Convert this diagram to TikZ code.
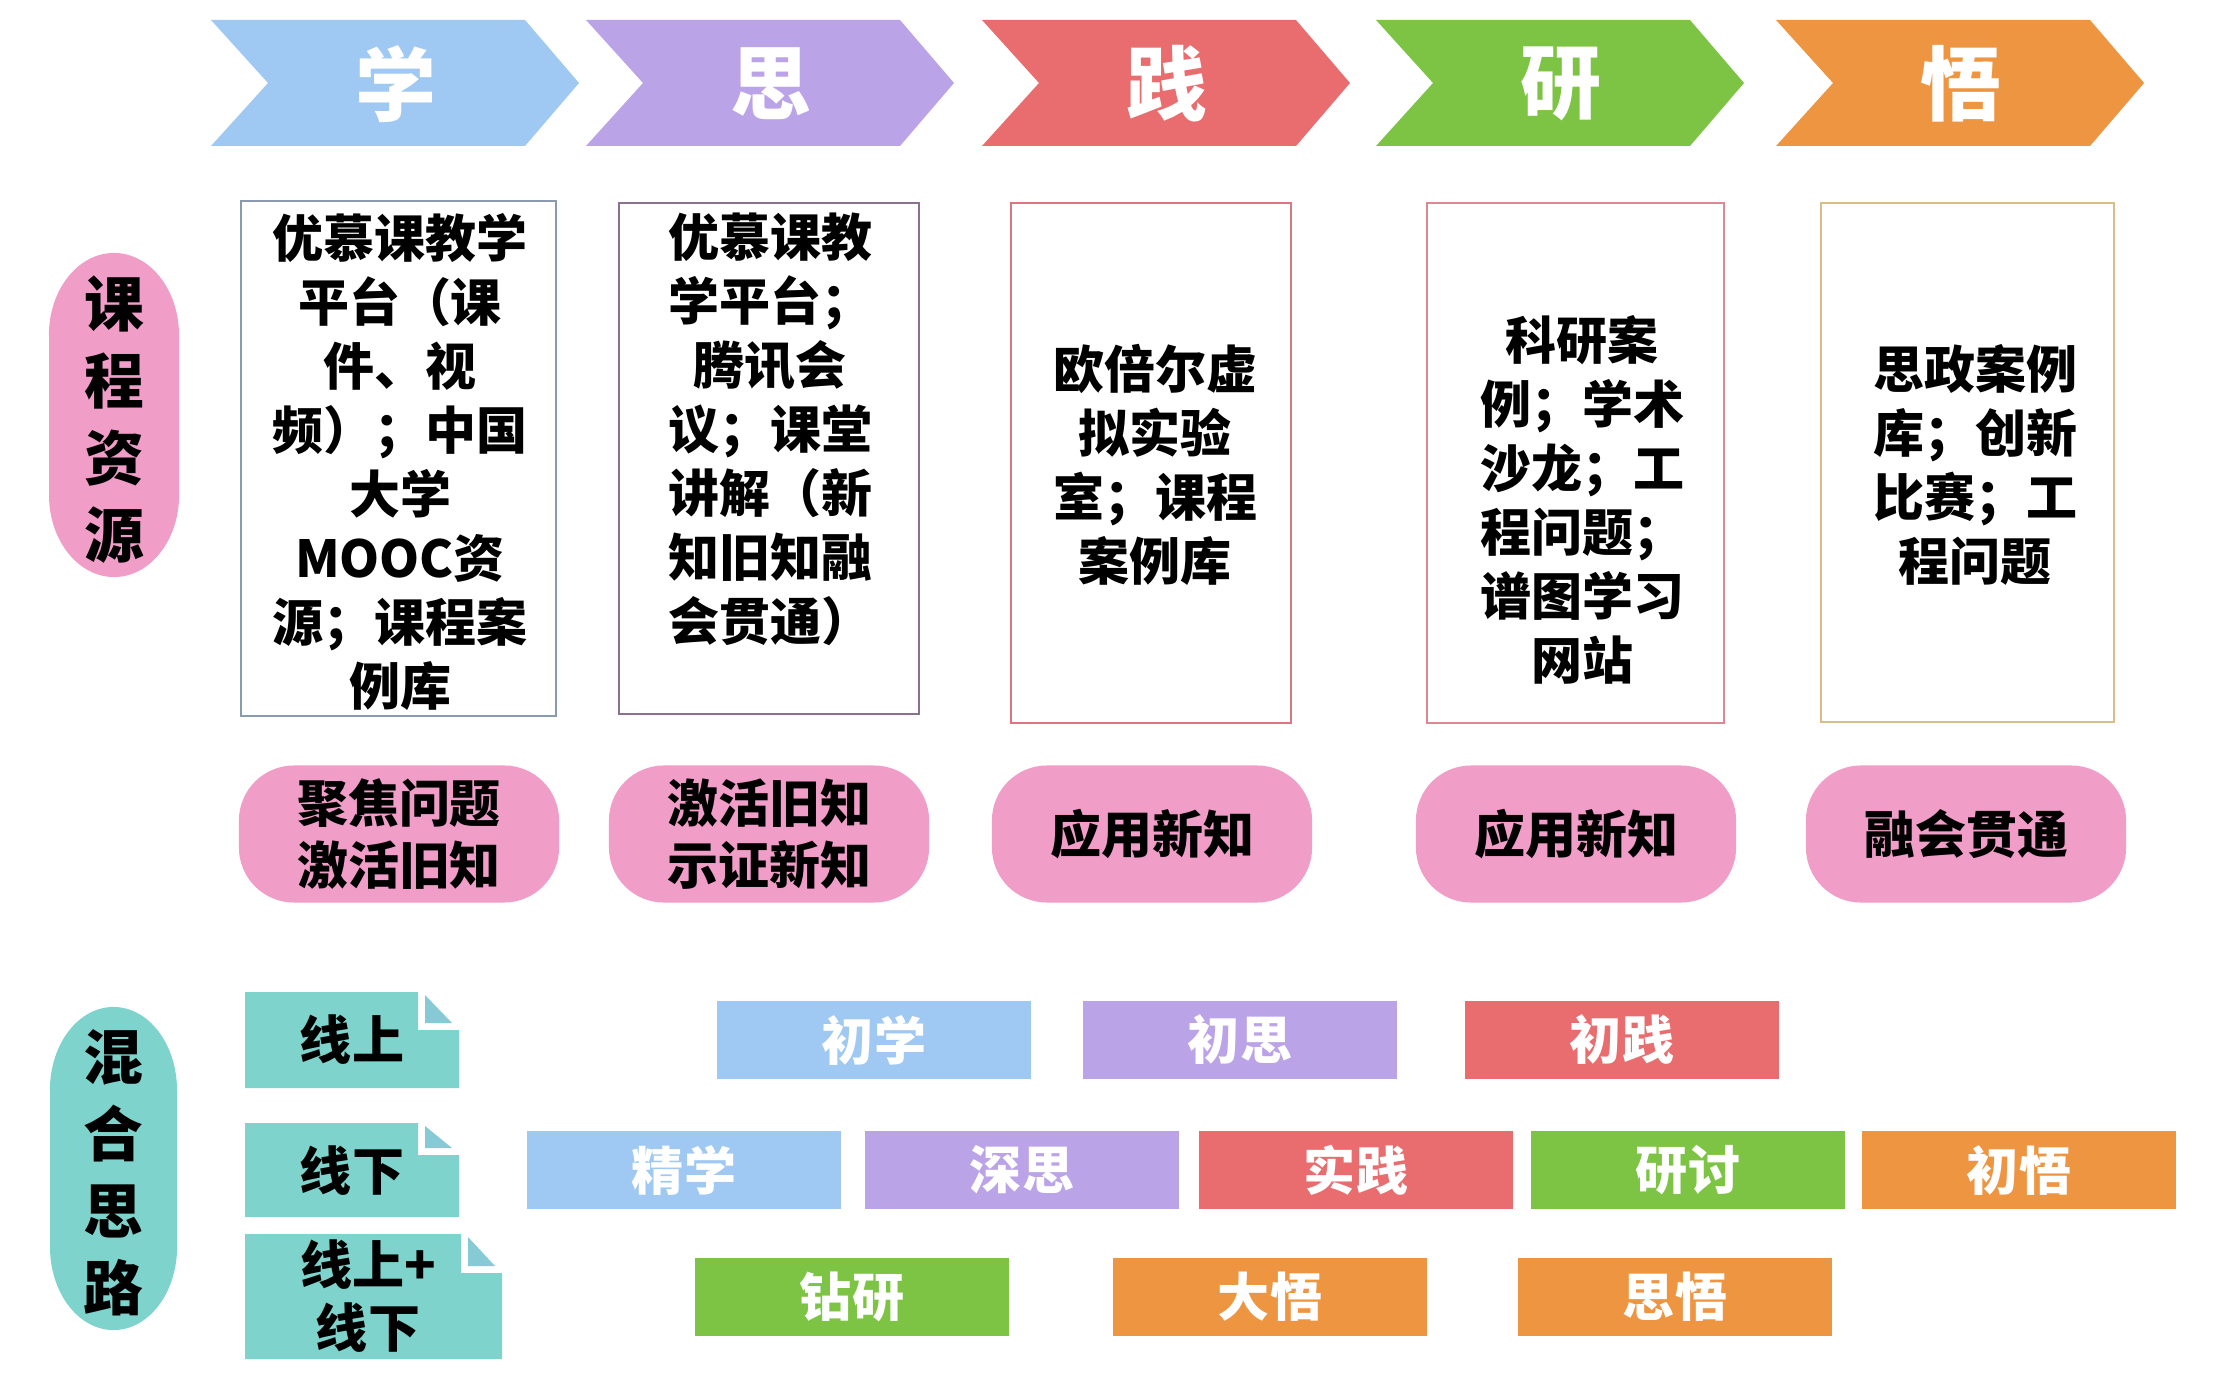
\documentclass[tikz,border=0pt]{standalone}
\usepackage{fontspec}
\setmainfont{Noto Sans CJK SC}
\usetikzlibrary{positioning}

\definecolor{xblue}{HTML}{9FC9F2}
\definecolor{xpurple}{HTML}{BBA3E8}
\definecolor{xred}{HTML}{E96C6E}
\definecolor{xgreen}{HTML}{7DC444}
\definecolor{xorange}{HTML}{EE9542}
\definecolor{xpink}{HTML}{F09DC8}
\definecolor{xteal}{HTML}{7ED4CC}
\definecolor{xflap}{HTML}{86CAD6}
\definecolor{bd1}{HTML}{8A9AB0}
\definecolor{bd2}{HTML}{8C7090}
\definecolor{bd3}{HTML}{DC7680}
\definecolor{bd4}{HTML}{D98A92}
\definecolor{bd5}{HTML}{D9BC86}

\tikzset{
  steptext/.style={text=white, font=\fontsize{23}{27}\selectfont\bfseries},
  restext/.style={align=center, font=\fontsize{14.5}{18.2}\selectfont\bfseries},
  resbox/.style={line width=0.8pt},
  pinkbox/.style={fill=xpink, rounded corners=0.55cm, minimum width=3.2cm,
    minimum height=1.37cm, align=center, font=\fontsize{14.5}{17.6}\selectfont\bfseries},
  sidetext/.style={align=center, font=\fontsize{17}{21.9}\selectfont\bfseries},
  doctext/.style={align=center, font=\fontsize{14.8}{17.9}\selectfont\bfseries},
  stagebox/.style={minimum width=3.13cm, minimum height=0.78cm, text=white,
    font=\fontsize{14.8}{17}\selectfont\bfseries}
}

\begin{document}
\begin{tikzpicture}[x=0.01cm, y=-0.01cm]
\useasboundingbox[fill=white] (0,0) rectangle (2240,1382);

% top chevrons
\foreach \x/\c/\t [count=\i] in {211/xblue/学, 586/xpurple/思, 982/xred/践, 1376/xgreen/研, 1776/xorange/悟}{
  \fill[\c] (\x,20) -- (\x+314,20) -- (\x+368,83) -- (\x+314,146) -- (\x,146) -- (\x+57,83) -- cycle;
  \node[steptext] (st\i) at (\x+185,84) {\t};
}

% side labels
\fill[xpink] (49,335) -- (49,495) arc[start angle=180, end angle=360, x radius=0.65cm, y radius=0.82cm]
  -- (179,335) arc[start angle=0, end angle=180, x radius=0.65cm, y radius=0.82cm] -- cycle;
\node[sidetext] (kczy) at (114,420) {课\\程\\资\\源};
\fill[xteal] (50,1090) -- (50,1247) arc[start angle=180, end angle=360, x radius=0.635cm, y radius=0.83cm]
  -- (177,1090) arc[start angle=0, end angle=180, x radius=0.635cm, y radius=0.83cm] -- cycle;
\node[sidetext] (hhsl) at (113,1173) {混\\合\\思\\路};

% resource boxes
\draw[resbox, bd1] (241,201) rectangle (556,716);
\draw[resbox, bd2] (619,203) rectangle (919,714);
\draw[resbox, bd3] (1011,203) rectangle (1291,723);
\draw[resbox, bd4] (1427,203) rectangle (1724,723);
\draw[resbox, bd5] (1821,203) rectangle (2114,722);
\node[restext] (res1) at (400,462) {优慕课教学\\平台（课\\件、视\\频）；中国\\大学\\MOOC资\\源；课程案\\例库};
\node[restext] (res2) at (770,429) {优慕课教\\学平台；\\腾讯会\\议；课堂\\讲解（新\\知旧知融\\会贯通）};
\node[restext] (res3) at (1155,465) {欧倍尔虚\\拟实验\\室；课程\\案例库};
\node[restext] (res4) at (1582,500) {科研案\\例；学术\\沙龙；工\\程问题；\\谱图学习\\网站};
\node[restext] (res5) at (1975,465) {思政案例\\库；创新\\比赛；工\\程问题};

% goals
\node[pinkbox] (goal1) at (399,834) {聚焦问题\\激活旧知};
\node[pinkbox] (goal2) at (769,834) {激活旧知\\示证新知};
\node[pinkbox] (goal3) at (1152,834) {应用新知};
\node[pinkbox] (goal4) at (1576,834) {应用新知};
\node[pinkbox] (goal5) at (1966,834) {融会贯通};

% online / offline sheets
\foreach \l/\t/\r/\b/\nx/\ny in {245/992/459/1088/418/1030, 245/1123/459/1217/418/1155, 245/1234/502/1359/461/1273}{
  \fill[xteal] (\l,\t) -- (\nx,\t) -- (\nx,\ny) -- (\r,\ny) -- (\r,\b) -- (\l,\b) -- cycle;
  \fill[xflap] (\nx+7,\t+3) -- (\r-7,\ny-7) -- (\nx+7,\ny-7) -- cycle;
}
\node[doctext] (on) at (352,1040) {线上};
\node[doctext] (off) at (352,1171) {线下};
\node[doctext] (mix) at (368,1296) {线上+\\线下};

% stages
\foreach \x/\y/\c/\t [count=\i] in {874/1040/xblue/初学, 1240/1040/xpurple/初思, 1622/1040/xred/初践,
    684/1170/xblue/精学, 1022/1170/xpurple/深思, 1356/1170/xred/实践, 1688/1170/xgreen/研讨, 2019/1170/xorange/初悟,
    852/1297/xgreen/钻研, 1270/1297/xorange/大悟, 1675/1297/xorange/思悟}{
  \node[stagebox, fill=\c] (sb\i) at (\x,\y) {\t};
}
\end{tikzpicture}
\end{document}
